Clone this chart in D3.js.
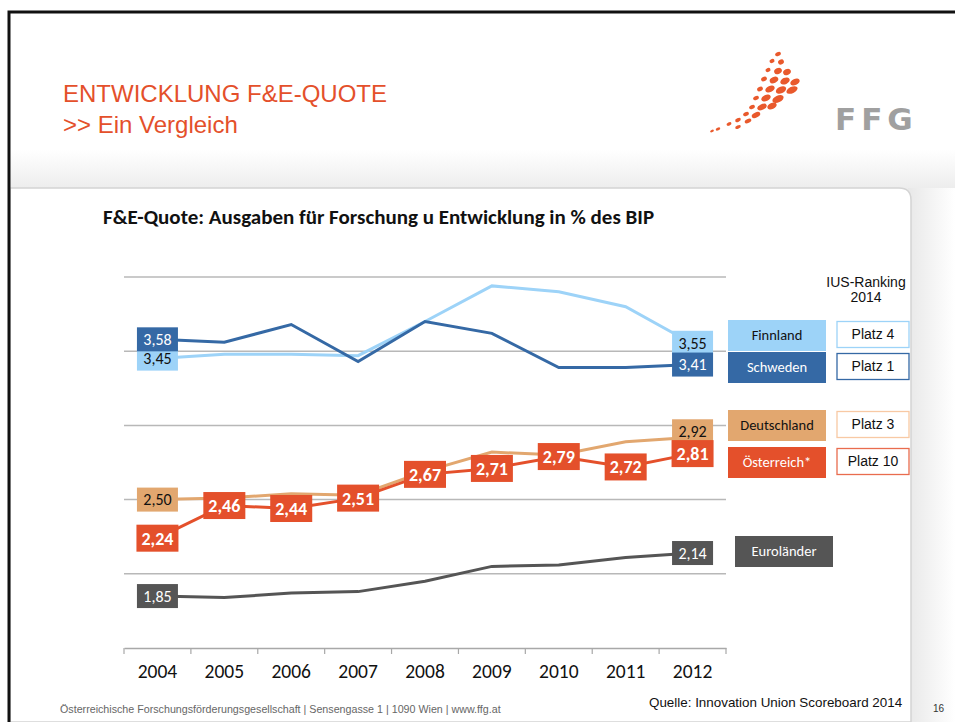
<!DOCTYPE html>
<html>
<head>
<meta charset="utf-8">
<script src="https://cdn.jsdelivr.net/npm/d3@7"></script>
<style>
  body { margin: 0; background: #fff; }
  svg { display: block; }
</style>
</head>
<body>
<svg id="chart" width="955" height="722"></svg>
<script>
// data
var years = ['2004', '2005', '2006', '2007', '2008', '2009', '2010', '2011', '2012'];
var finnland = [3.45, 3.48, 3.48, 3.47, 3.70, 3.94, 3.90, 3.80, 3.55];
var schweden = [3.58, 3.56, 3.68, 3.43, 3.70, 3.62, 3.39, 3.39, 3.41];
var deutschland = [2.50, 2.51, 2.54, 2.53, 2.69, 2.82, 2.80, 2.89, 2.92];
var oesterreich = [2.24, 2.46, 2.44, 2.51, 2.67, 2.71, 2.79, 2.72, 2.81];
var eurolaender = [1.85, 1.84, 1.87, 1.88, 1.95, 2.05, 2.06, 2.11, 2.14];
var gridValues = [2.0, 2.5, 3.0, 3.5, 4.0];
var seriesNames = ['Finnland', 'Schweden', 'Deutschland', 'Österreich*', 'Euroländer'];
var ranking = ['Platz 4', 'Platz 1', 'Platz 3', 'Platz 10', null];

var orange = '#e4502b';
var calibri = 'Carlito, Calibri, Lato, sans-serif';
var arial = 'Arial, "Liberation Sans", sans-serif';

var svg = d3.select('#chart');
var defs = svg.append('defs');

// shadow gradients round the panel
var gTop = defs.append('linearGradient').attr('id', 'shTop').attr('x1', 0).attr('y1', 0).attr('x2', 0).attr('y2', 1);
gTop.append('stop').attr('offset', 0).attr('stop-color', '#fff');
gTop.append('stop').attr('offset', 1).attr('stop-color', '#ececec');
var gRight = defs.append('linearGradient').attr('id', 'shRight').attr('x1', 0).attr('y1', 0).attr('x2', 1).attr('y2', 0);
gRight.append('stop').attr('offset', 0).attr('stop-color', '#e8e8e8');
gRight.append('stop').attr('offset', 1).attr('stop-color', '#fff');

svg.append('rect').attr('x', 10).attr('y', 150).attr('width', 945).attr('height', 40).attr('fill', 'url(#shTop)');
svg.append('rect').attr('x', 908).attr('y', 188).attr('width', 47).attr('height', 534).attr('fill', 'url(#shRight)');

// white panel with rounded top-right corner
svg.append('path')
  .attr('d', 'M10,188 L899,188 Q911,188 911,200 L911,722 L10,722 Z')
  .attr('fill', '#fff')
  .attr('stroke', '#d4d4d4')
  .attr('stroke-width', 1.5);

// slide border
svg.append('path')
  .attr('d', 'M9,722 L9,12 L955,12')
  .attr('fill', 'none')
  .attr('stroke', '#111')
  .attr('stroke-width', 3);

// heading
svg.append('text').attr('x', 63).attr('y', 102)
  .style('font-family', arial).style('font-size', '24px')
  .attr('fill', orange).text('ENTWICKLUNG F&E-QUOTE');
svg.append('text').attr('x', 63).attr('y', 133)
  .style('font-family', arial).style('font-size', '24px')
  .attr('fill', orange).text('>> Ein Vergleich');

// FFG logo: swarm of dots
var logo = svg.append('g').attr('fill', '#e9592c');
var dots = [
  [778, 54, 3, 2], [772, 61, 2.6, 2], [781, 62, 3, 2.4], [768, 70, 2.6, 2], [778, 71, 4, 3], [787, 72, 4, 3],
  [764, 79, 3, 2.2], [774, 80, 4.5, 3], [785, 81, 5, 3.2], [795, 82, 5, 3], [760, 89, 3, 2.2], [770, 89, 5, 3],
  [781, 90, 5.5, 3.2], [792, 90, 6, 3.2], [756, 98, 3, 2], [766, 98, 5, 3], [778, 99, 6, 3.4], [752, 107, 3, 2],
  [762, 107, 5, 2.8], [772, 106, 5, 3], [746, 114, 3, 2], [756, 115, 4.5, 2.6], [738, 120, 3, 1.8], [748, 121, 3.5, 2],
  [729, 124, 2.6, 1.6], [738, 127, 3, 1.6], [718, 129, 2.4, 1.4], [712, 131, 2, 1.2]
];
dots.forEach(function(d) {
  logo.append('ellipse').attr('cx', d[0]).attr('cy', d[1]).attr('rx', d[2]).attr('ry', d[3])
    .attr('transform', 'rotate(-25,' + d[0] + ',' + d[1] + ')');
});
svg.append('text').attr('x', 835).attr('y', 130)
  .style('font-family', '"DejaVu Sans", Arial, sans-serif').style('font-size', '31px').style('font-weight', 'bold')
  .style('letter-spacing', '5px').attr('fill', '#a0a0a0').text('FFG');

// chart title
svg.append('text').attr('x', 103).attr('y', 224)
  .style('font-family', calibri).style('font-size', '21px').style('font-weight', 'bold')
  .attr('fill', '#111').text('F&E-Quote: Ausgaben für Forschung u Entwicklung in % des BIP');

// scales
var x = d3.scaleBand().domain(years).range([124, 726]);
var y = d3.scaleLinear().domain([1.5, 4.0]).range([648, 277]);
var cx = function(yr) { return x(yr) + x.bandwidth() / 2; };

// gridlines
svg.append('g').selectAll('line').data(gridValues).join('line')
  .attr('x1', 124).attr('x2', 726)
  .attr('y1', function(d) { return y(d); }).attr('y2', function(d) { return y(d); })
  .attr('stroke', '#b8b8b8').attr('stroke-width', 1.5);

// x axis
var xAxis = svg.append('g').attr('transform', 'translate(0,' + y(1.5) + ')')
  .call(d3.axisBottom(x).tickSize(0).tickPadding(16));
xAxis.select('.domain').attr('stroke', '#a8a8a8').attr('stroke-width', 1.5);
xAxis.selectAll('text').style('font-family', calibri).style('font-size', '19.5px').attr('fill', '#111');
xAxis.append('g').selectAll('line').data(years.concat(['end'])).join('line')
  .attr('x1', function(d, i) { return 124 + i * x.step(); })
  .attr('x2', function(d, i) { return 124 + i * x.step(); })
  .attr('y1', 0).attr('y2', 6).attr('stroke', '#a8a8a8').attr('stroke-width', 1.2);

var series = [
  { name: seriesNames[0], values: finnland, color: '#9dd3f8', text: '#111', bold: false, rank: ranking[0], rankStroke: '#9dd3f8' },
  { name: seriesNames[1], values: schweden, color: '#3569a5', text: '#fff', bold: false, rank: ranking[1], rankStroke: '#3569a5' },
  { name: seriesNames[2], values: deutschland, color: '#e2a76f', text: '#111', bold: false, rank: ranking[2], rankStroke: '#f8c9a4' },
  { name: seriesNames[3], values: oesterreich, color: orange, text: '#fff', bold: true, rank: ranking[3], rankStroke: '#e96c4e' },
  { name: seriesNames[4], values: eurolaender, color: '#555555', text: '#fff', bold: false, rank: ranking[4] }
];

var line = d3.line()
  .x(function(d, i) { return cx(years[i]); })
  .y(function(d) { return y(d); });

// draw lines (back to front)
[4, 2, 3, 0, 1].forEach(function(k) {
  svg.append('path').datum(series[k].values)
    .attr('d', line).attr('fill', 'none')
    .attr('stroke', series[k].color).attr('stroke-width', 3);
});

var fmt = function(v) { return v.toFixed(2).replace('.', ','); };

function label(s, i, dy) {
  var v = s.values[i];
  var w = s.bold ? 42 : 41, h = s.bold ? 27 : 24;
  var g = svg.append('g').attr('transform', 'translate(' + cx(years[i]) + ',' + (y(v) + dy) + ')');
  g.append('rect').attr('x', -w / 2).attr('y', -h / 2).attr('width', w).attr('height', h).attr('fill', s.color);
  g.append('text').attr('text-anchor', 'middle').attr('dy', '0.36em')
    .style('font-family', calibri).style('font-size', s.bold ? '18px' : '16px')
    .style('font-weight', s.bold ? 'bold' : 'normal')
    .attr('fill', s.text).text(fmt(v));
}

// data labels
label(series[0], 0, 0);
label(series[1], 0, 0);
label(series[0], 8, -1);
label(series[1], 8, 0);
label(series[2], 0, 0);
label(series[2], 8, -6);
series[3].values.forEach(function(v, i) { label(series[3], i, 0); });
label(series[4], 0, 0);
label(series[4], 8, 0);

// legend
var legendY = [335, 367, 425, 462, 551];
var legendX = [728, 728, 728, 728, 735];
series.forEach(function(s, k) {
  var g = svg.append('g').attr('transform', 'translate(' + legendX[k] + ',' + legendY[k] + ')');
  g.append('rect').attr('x', 0).attr('y', -15).attr('width', 98).attr('height', 31).attr('fill', s.color);
  g.append('text').attr('x', 49).attr('dy', '0.35em').attr('text-anchor', 'middle')
    .style('font-family', calibri).style('font-size', '14.5px').style('font-weight', 'normal')
    .attr('fill', s.text).text(s.name);
  if (s.rank) {
    var r = svg.append('g').attr('transform', 'translate(837,' + (legendY[k] - 0.5) + ')');
    r.append('rect').attr('x', 0).attr('y', -13).attr('width', 72).attr('height', 26)
      .attr('fill', '#fff').attr('stroke', s.rankStroke).attr('stroke-width', 1.3);
    r.append('text').attr('x', 36).attr('dy', '0.35em').attr('text-anchor', 'middle')
      .style('font-family', arial).style('font-size', '14px')
      .attr('fill', '#111').text(s.rank);
  }
});

svg.append('text').attr('x', 866).attr('y', 287).attr('text-anchor', 'middle')
  .style('font-family', arial).style('font-size', '14px')
  .attr('fill', '#111').text('IUS-Ranking');
svg.append('text').attr('x', 866).attr('y', 302).attr('text-anchor', 'middle')
  .style('font-family', arial).style('font-size', '14px')
  .attr('fill', '#111').text('2014');

// footer
svg.append('text').attr('x', 60).attr('y', 713)
  .style('font-family', arial).style('font-size', '10.7px')
  .attr('fill', '#666').text('Österreichische Forschungsförderungsgesellschaft | Sensengasse 1 | 1090 Wien | www.ffg.at');
svg.append('text').attr('x', 649).attr('y', 707)
  .style('font-family', arial).style('font-size', '13.4px')
  .attr('fill', '#111').text('Quelle: Innovation Union Scoreboard  2014');
svg.append('text').attr('x', 933).attr('y', 712)
  .style('font-family', arial).style('font-size', '10px')
  .attr('fill', '#333').text('16');
</script>
</body>
</html>
